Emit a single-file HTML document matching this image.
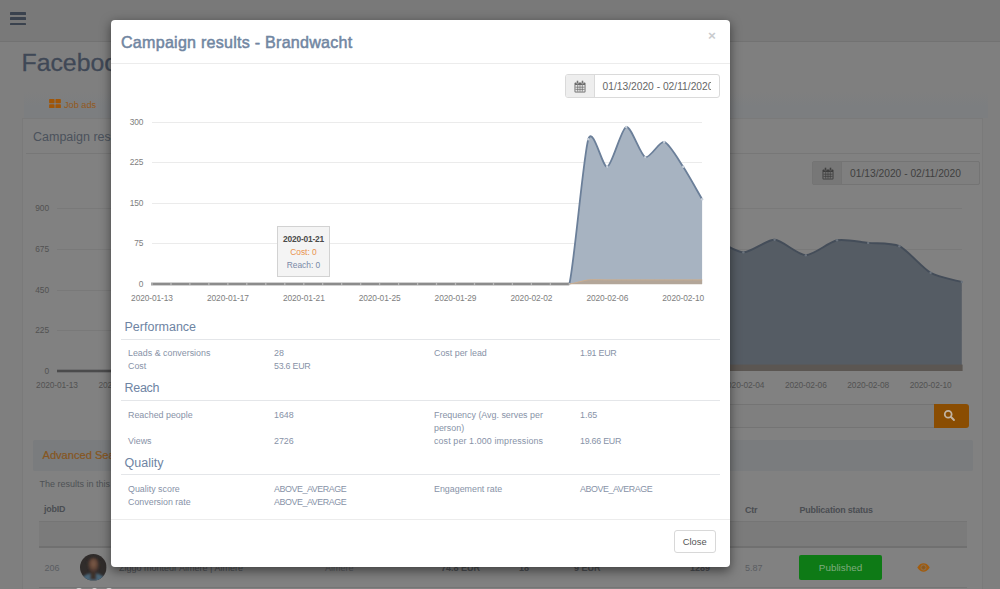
<!DOCTYPE html>
<html>
<head>
<meta charset="utf-8">
<title>Campaign results</title>
<style>
*{box-sizing:border-box;margin:0;padding:0}
html,body{width:1000px;height:589px;overflow:hidden;background:#7f7f7f;font-family:"Liberation Sans",sans-serif;}
.abs{position:absolute}
.t{position:absolute;white-space:nowrap;line-height:1;}
#page{position:absolute;left:0;top:0;width:1000px;height:589px;background:#7f7f7f;overflow:hidden}
#modal{position:absolute;left:111px;top:20px;width:619px;height:547px;background:#fff;border-radius:4px;box-shadow:0 3.5px 10.5px rgba(0,0,0,.5);overflow:hidden}
.lbl{color:#8792a7;font-size:8.9px}
.num{letter-spacing:-.25px}
.cap{letter-spacing:-.42px}
.sec{color:#6e84a3;font-size:12.5px}
.hr{position:absolute;left:10px;width:598.5px;height:1px;background:#e4e6e9}
.ax{color:#7e7e7e;font-size:8.4px;letter-spacing:-.1px}
.bax{color:#525252;font-size:8.4px;letter-spacing:-.1px}
</style>
</head>
<body>
<div id="page">
<div class="abs" style="left:0;top:0;width:1000px;height:42px;background:#797979;border-bottom:1px solid #727272"></div>
<div class="abs" style="left:9.6px;top:12px;width:16.6px;height:2.5px;background:#3a424e;border-radius:.6px"></div>
<div class="abs" style="left:9.6px;top:17.4px;width:16.6px;height:2.5px;background:#3a424e;border-radius:.6px"></div>
<div class="abs" style="left:9.6px;top:22.8px;width:16.6px;height:2.5px;background:#3a424e;border-radius:.6px"></div>
<div class="t" id="ptitle" style="left:21.5px;top:51px;font-size:24.8px;color:#3f4856;-webkit-text-stroke:.3px #3f4856">Facebook campaigns</div>
<div class="abs" style="left:24px;top:92px;width:964px;height:26px;background:linear-gradient(#7f7f7f,#7c7e80 55%,#7c7e80)"></div>
<svg class="abs" style="left:49.4px;top:98.6px" width="12" height="9.6" viewBox="0 0 13 10.6"><g fill="#a05608"><rect x="0" y="0" width="6" height="4.8" rx=".8"/><rect x="7" y="0" width="6" height="4.8" rx=".8"/><rect x="0" y="5.8" width="6" height="4.8" rx=".8"/><rect x="7" y="5.8" width="6" height="4.8" rx=".8"/></g></svg>
<div class="t" id="jobads" style="left:64px;top:101px;font-size:9.2px;color:#94591c">Job ads</div>
<div class="abs" style="left:22px;top:118px;width:960.5px;height:480px;background:#818181;border:1px solid #7a7a7a"></div>
<div class="t" id="pcamp" style="left:33px;top:130.6px;font-size:12.5px;color:#4b525c">Campaign results</div>
<div class="abs" style="left:26px;top:153px;width:954px;height:1px;background:#777"></div>
<div class="abs" style="left:812.4px;top:161px;width:167.3px;height:24px;border:1px solid #747474;border-radius:2px;background:#7f7f7f"></div>
<div class="abs" style="left:813.4px;top:162px;width:28.4px;height:22px;background:#777777;border-right:1px solid #747474"></div>
<svg class="abs" style="left:821.5px;top:167px" width="12" height="13" viewBox="0 0 12 13"><rect x="0.5" y="2.5" width="11" height="10" rx="1" fill="#3e3e3e"/><rect x="1.4" y="5" width="9.2" height="6.6" fill="#757575"/><g stroke="#3e3e3e" stroke-width=".7"><line x1="3.7" y1="5" x2="3.7" y2="11.6"/><line x1="6" y1="5" x2="6" y2="11.6"/><line x1="8.3" y1="5" x2="8.3" y2="11.6"/><line x1="1.4" y1="7.2" x2="10.6" y2="7.2"/><line x1="1.4" y1="9.4" x2="10.6" y2="9.4"/></g><rect x="2.6" y="0.6" width="1.8" height="3.2" rx=".8" fill="#3e3e3e" stroke="#757575" stroke-width=".5"/><rect x="7.6" y="0.6" width="1.8" height="3.2" rx=".8" fill="#3e3e3e" stroke="#757575" stroke-width=".5"/></svg>
<div class="t" style="left:850px;top:169.3px;font-size:10.25px;color:#404040">01/13/2020 - 02/11/2020</div>
<svg class="abs" style="left:0;top:190px" width="1000" height="200" viewBox="0 190 1000 200">
<line x1="57" x2="962" y1="208.5" y2="208.5" stroke="#797979" stroke-width="1"/>
<line x1="57" x2="962" y1="249.5" y2="249.5" stroke="#797979" stroke-width="1"/>
<line x1="57" x2="962" y1="290.5" y2="290.5" stroke="#797979" stroke-width="1"/>
<line x1="57" x2="962" y1="330.5" y2="330.5" stroke="#797979" stroke-width="1"/>
<path d="M57.00 371.00 C64.80 371.00 80.40 371.00 88.20 371.00 C96.00 371.00 111.60 371.00 119.40 371.00 C127.20 371.00 142.80 371.00 150.60 371.00 C158.40 371.00 174.00 371.00 181.80 371.00 C189.60 371.00 205.20 371.00 213.00 371.00 C220.80 371.00 236.40 371.00 244.20 371.00 C252.00 371.00 267.60 371.00 275.40 371.00 C283.20 371.00 298.80 371.00 306.60 371.00 C314.40 371.00 330.00 371.00 337.80 371.00 C345.60 371.00 361.20 371.00 369.00 371.00 C376.80 371.00 392.40 371.00 400.20 371.00 C408.00 371.00 423.60 371.00 431.40 371.00 C439.20 371.00 454.80 371.00 462.60 371.00 C470.40 371.00 486.00 371.00 493.80 371.00 C501.60 371.00 517.20 371.00 525.00 371.00 C532.80 371.00 548.40 371.00 556.20 371.00 C564.00 371.00 579.60 371.00 587.40 371.00 C595.20 371.00 610.80 371.00 618.60 371.00 C626.40 362.12 642.00 315.12 649.80 300.00 C657.60 284.88 673.20 257.50 681.00 250.00 C688.80 242.50 704.40 239.70 712.20 240.00 C720.00 240.30 735.60 252.43 743.40 252.40 C751.20 252.38 766.80 239.45 774.60 239.80 C782.40 240.15 798.00 255.14 805.80 255.20 C813.60 255.26 829.20 241.84 837.00 240.30 C844.80 238.76 860.40 242.16 868.20 242.90 C876.00 243.64 891.60 242.46 899.40 246.20 C907.20 249.94 922.80 268.32 930.60 272.80 C938.40 277.27 954.00 279.70 961.80 282.00 L961.8 371 L57.0 371 Z" fill="#555c64"/>
<path d="M57.00 371.00 C64.80 371.00 80.40 371.00 88.20 371.00 C96.00 371.00 111.60 371.00 119.40 371.00 C127.20 371.00 142.80 371.00 150.60 371.00 C158.40 371.00 174.00 371.00 181.80 371.00 C189.60 371.00 205.20 371.00 213.00 371.00 C220.80 371.00 236.40 371.00 244.20 371.00 C252.00 371.00 267.60 371.00 275.40 371.00 C283.20 371.00 298.80 371.00 306.60 371.00 C314.40 371.00 330.00 371.00 337.80 371.00 C345.60 371.00 361.20 371.00 369.00 371.00 C376.80 371.00 392.40 371.00 400.20 371.00 C408.00 371.00 423.60 371.00 431.40 371.00 C439.20 371.00 454.80 371.00 462.60 371.00 C470.40 371.00 486.00 371.00 493.80 371.00 C501.60 371.00 517.20 371.00 525.00 371.00 C532.80 371.00 548.40 371.00 556.20 371.00 C564.00 371.00 579.60 371.00 587.40 371.00 C595.20 371.00 610.80 371.00 618.60 371.00 C626.40 362.12 642.00 315.12 649.80 300.00 C657.60 284.88 673.20 257.50 681.00 250.00 C688.80 242.50 704.40 239.70 712.20 240.00 C720.00 240.30 735.60 252.43 743.40 252.40 C751.20 252.38 766.80 239.45 774.60 239.80 C782.40 240.15 798.00 255.14 805.80 255.20 C813.60 255.26 829.20 241.84 837.00 240.30 C844.80 238.76 860.40 242.16 868.20 242.90 C876.00 243.64 891.60 242.46 899.40 246.20 C907.20 249.94 922.80 268.32 930.60 272.80 C938.40 277.27 954.00 279.70 961.80 282.00" fill="none" stroke="#444d59" stroke-width="1.9"/>
<rect x="57" y="369.7" width="561.6" height="2.6" fill="#4b4b4c"/>
<rect x="649.8" y="364.6" width="312.8" height="6.4" fill="#5b5652"/>
<circle cx="649.8" cy="300.0" r="1.2" fill="#6b737d"/>
<circle cx="681.0" cy="250.0" r="1.2" fill="#6b737d"/>
<circle cx="712.2" cy="240.0" r="1.2" fill="#6b737d"/>
<circle cx="743.4" cy="252.4" r="1.2" fill="#6b737d"/>
<circle cx="774.6" cy="239.8" r="1.2" fill="#6b737d"/>
<circle cx="805.8" cy="255.2" r="1.2" fill="#6b737d"/>
<circle cx="837.0" cy="240.3" r="1.2" fill="#6b737d"/>
<circle cx="868.2" cy="242.9" r="1.2" fill="#6b737d"/>
<circle cx="899.4" cy="246.2" r="1.2" fill="#6b737d"/>
<circle cx="930.6" cy="272.8" r="1.2" fill="#6b737d"/>
<circle cx="961.8" cy="282.0" r="1.2" fill="#6b737d"/>
</svg>
<div class="t bax" style="right:951px;top:203.7px">900</div>
<div class="t bax" style="right:951px;top:244.7px">675</div>
<div class="t bax" style="right:951px;top:285.7px">450</div>
<div class="t bax" style="right:951px;top:325.7px">225</div>
<div class="t bax" style="right:951px;top:366.7px">0</div>
<div class="t bax" style="left:27.0px;top:380.7px;width:60px;text-align:center">2020-01-13</div>
<div class="t bax" style="left:89.4px;top:380.7px;width:60px;text-align:center">2020-01-15</div>
<div class="t bax" style="left:151.8px;top:380.7px;width:60px;text-align:center">2020-01-17</div>
<div class="t bax" style="left:214.2px;top:380.7px;width:60px;text-align:center">2020-01-19</div>
<div class="t bax" style="left:276.6px;top:380.7px;width:60px;text-align:center">2020-01-21</div>
<div class="t bax" style="left:339.0px;top:380.7px;width:60px;text-align:center">2020-01-23</div>
<div class="t bax" style="left:401.4px;top:380.7px;width:60px;text-align:center">2020-01-25</div>
<div class="t bax" style="left:463.8px;top:380.7px;width:60px;text-align:center">2020-01-27</div>
<div class="t bax" style="left:526.2px;top:380.7px;width:60px;text-align:center">2020-01-29</div>
<div class="t bax" style="left:588.6px;top:380.7px;width:60px;text-align:center">2020-01-31</div>
<div class="t bax" style="left:651.0px;top:380.7px;width:60px;text-align:center">2020-02-02</div>
<div class="t bax" style="left:713.4px;top:380.7px;width:60px;text-align:center">2020-02-04</div>
<div class="t bax" style="left:775.8px;top:380.7px;width:60px;text-align:center">2020-02-06</div>
<div class="t bax" style="left:838.2px;top:380.7px;width:60px;text-align:center">2020-02-08</div>
<div class="t bax" style="left:900.6px;top:380.7px;width:60px;text-align:center">2020-02-10</div>
<div class="abs" style="left:400px;top:404px;width:535px;height:24px;background:#7f7f7f;border:1px solid #747474;border-radius:2px 0 0 2px"></div>
<div class="abs" style="left:934px;top:404px;width:35px;height:23.5px;background:#8a4d02;border-radius:0 3px 3px 0"></div>
<svg class="abs" style="left:943.3px;top:408.7px" width="13" height="13" viewBox="0 0 14 14"><circle cx="5.6" cy="5.6" r="3.7" fill="none" stroke="#c2b4a3" stroke-width="1.9"/><line x1="8.4" y1="8.4" x2="11.8" y2="11.8" stroke="#c2b4a3" stroke-width="2.1" stroke-linecap="round"/></svg>
<div class="abs" style="left:33px;top:440px;width:939.5px;height:31px;background:#7a7c7e;border:1px solid #7a7c7e;border-radius:2px"></div>
<div class="t" id="adv" style="left:42.5px;top:449.5px;font-size:11.1px;color:#875620;-webkit-text-stroke:.2px #875620">Advanced Search</div>
<div class="t" id="res" style="left:39.5px;top:479.5px;font-size:9px;color:#4e5155">The results in this table are updated</div>
<div class="t" id="jobid" style="left:44px;top:505.4px;font-size:8.9px;font-weight:bold;color:#4a4d52;letter-spacing:-.17px">jobID</div>
<div class="t" id="ctr" style="left:745px;top:505.6px;font-size:8.9px;font-weight:bold;color:#4a4d52;letter-spacing:-.17px">Ctr</div>
<div class="t" id="pubs" style="left:799.5px;top:505.6px;font-size:8.9px;font-weight:bold;color:#4a4d52;letter-spacing:-.17px">Publication status</div>
<div class="abs" style="left:39px;top:521px;width:928px;height:27px;background:#7b7b7b;border-top:1px solid #757575;border-bottom:2px solid #707070"></div>
<div class="abs" style="left:39px;top:586.6px;width:928px;height:1px;background:#757575"></div>
<div class="t" style="left:44.5px;top:564px;font-size:9px;color:#5a5d61">206</div>
<svg class="abs" id="avatar" style="left:80.2px;top:554.2px" width="26.6" height="26.6" viewBox="0 0 28 28"><defs><clipPath id="avc"><circle cx="14" cy="14" r="14"/></clipPath><filter id="avb" x="-20%" y="-20%" width="140%" height="140%"><feGaussianBlur stdDeviation="1.1"/></filter><radialGradient id="avf" cx="50%" cy="42%" r="55%"><stop offset="0" stop-color="#7d5c4b"/><stop offset=".55" stop-color="#654839"/><stop offset="1" stop-color="#40302a"/></radialGradient></defs><g clip-path="url(#avc)"><rect width="28" height="28" fill="#302c2b"/><g filter="url(#avb)"><path d="M0 30 C2 22 8 20.5 14 20.5 C20 20.5 26 22 28 30 Z" fill="#4a6578"/><rect x="11" y="17" width="6" height="10" fill="#3c302b"/><ellipse cx="14.2" cy="11.6" rx="5.6" ry="8" fill="url(#avf)"/><path d="M7 11 C6.5 1.5 21.5 1.5 21 11 C19.5 5.6 17 4.6 14 4.6 C11 4.6 8.5 5.6 7 11 Z" fill="#2c2726"/></g></g></svg>
<div class="abs" style="left:76px;top:587.8px;width:5.5px;height:4px;border-radius:50%;background:#d2d2d2"></div><div class="abs" style="left:92px;top:587.8px;width:5px;height:4px;border-radius:50%;background:#d2d2d2"></div><div class="abs" style="left:106px;top:587.8px;width:5.5px;height:4px;border-radius:50%;background:#d2d2d2"></div>
<div class="t" style="left:119px;top:564px;font-size:9px;color:#4d5054">Ziggo monteur Almere | Almere</div>
<div class="t" style="left:325px;top:564px;font-size:9px;color:#5a5d61">Almere</div>
<div class="t" style="left:441px;top:564px;font-size:9px;font-weight:bold;color:#4d5054">74.8 EUR</div>
<div class="t" style="left:519px;top:564px;font-size:9px;font-weight:bold;color:#4d5054">18</div>
<div class="t" style="left:574px;top:564px;font-size:9px;font-weight:bold;color:#4d5054">9 EUR</div>
<div class="t" style="left:690px;top:564px;font-size:9px;font-weight:bold;color:#4d5054">1289</div>
<div class="t" style="left:745px;top:564px;font-size:9px;color:#5a5d61">5.87</div>
<div class="abs" style="left:799.4px;top:555.3px;width:82.8px;height:24.4px;background:#0e7a16;border-radius:2px"></div>
<div class="t" id="publ" style="left:799px;top:563px;width:83px;text-align:center;font-size:9.9px;color:#7fac7f">Published</div>
<svg class="abs" style="left:916.6px;top:562.7px" width="13" height="9" viewBox="0 0 13 9"><path d="M0.3 4.5 C2.3 1.2 4.4 0.3 6.5 0.3 C8.6 0.3 10.7 1.2 12.7 4.5 C10.7 7.8 8.6 8.7 6.5 8.7 C4.4 8.7 2.3 7.8 0.3 4.5 Z" fill="#a35c0c"/><circle cx="6.5" cy="4.5" r="2.6" fill="none" stroke="#7f7466" stroke-width=".9"/><circle cx="6.5" cy="4.5" r="1.2" fill="#7a5a30"/></svg>
</div>
<div id="modal">
<div class="t" id="mtitle" style="left:10px;top:14.0px;font-size:16.1px;letter-spacing:.24px;-webkit-text-stroke:.5px #7186a2;color:#7186a2">Campaign results - Brandwacht</div>
<div class="t" id="mx" style="left:597px;top:9px;font-size:13.5px;font-weight:bold;color:#c9cbce">&times;</div>
<div class="abs" style="left:0;top:43px;width:619px;height:1px;background:#ececec"></div>
<div class="abs" style="left:454px;top:54px;width:155px;height:24px;border:1px solid #dadada;border-radius:3px;background:#fff"></div>
<div class="abs" style="left:455px;top:55px;width:29px;height:22px;background:#eeeeee;border-right:1px solid #dadada;border-radius:2px 0 0 2px"></div>
<svg class="abs" style="left:463px;top:60.400000000000006px" width="12" height="13" viewBox="0 0 12 13"><rect x="0.5" y="2.5" width="11" height="10" rx="1" fill="#6a6a6a"/><rect x="1.4" y="5" width="9.2" height="6.6" fill="#e8e8e8"/><g stroke="#6a6a6a" stroke-width=".7"><line x1="3.7" y1="5" x2="3.7" y2="11.6"/><line x1="6" y1="5" x2="6" y2="11.6"/><line x1="8.3" y1="5" x2="8.3" y2="11.6"/><line x1="1.4" y1="7.2" x2="10.6" y2="7.2"/><line x1="1.4" y1="9.4" x2="10.6" y2="9.4"/></g><rect x="2.6" y="0.6" width="1.8" height="3.2" rx=".8" fill="#6a6a6a" stroke="#e8e8e8" stroke-width=".5"/><rect x="7.6" y="0.6" width="1.8" height="3.2" rx=".8" fill="#6a6a6a" stroke="#e8e8e8" stroke-width=".5"/></svg>
<div class="abs" style="left:491px;top:55px;width:109px;height:22px;overflow:hidden"><div class="t" id="mdate" style="left:.5px;top:7.3px;font-size:10.25px;color:#666">01/13/2020 - 02/11/2020</div></div>
<svg class="abs" style="left:0;top:0" width="618" height="300" viewBox="0 0 618 300">
<line x1="41" x2="591" y1="102.5" y2="102.5" stroke="#ebebeb" stroke-width="1"/>
<line x1="41" x2="591" y1="142.5" y2="142.5" stroke="#ebebeb" stroke-width="1"/>
<line x1="41" x2="591" y1="183.5" y2="183.5" stroke="#ebebeb" stroke-width="1"/>
<line x1="41" x2="591" y1="223.5" y2="223.5" stroke="#ebebeb" stroke-width="1"/>
<path d="M439.37 264.00 C444.11 264.00 453.60 264.00 458.34 264.00 C463.08 245.91 472.57 133.93 477.31 119.28 C482.05 104.63 491.54 148.37 496.28 146.82 C501.02 145.27 510.51 108.07 515.25 106.86 C519.99 105.64 529.48 135.21 534.22 137.10 C538.96 138.99 548.45 120.76 553.19 121.98 C557.93 123.19 567.42 139.66 572.16 146.82 C576.90 153.97 586.39 171.12 591.13 179.22 L591.1 264.0 L439.4 264.0 Z" fill="#a7b3c1"/>
<path d="M439.37 264.00 C444.11 264.00 453.60 264.00 458.34 264.00 C463.08 245.91 472.57 133.93 477.31 119.28 C482.05 104.63 491.54 148.37 496.28 146.82 C501.02 145.27 510.51 108.07 515.25 106.86 C519.99 105.64 529.48 135.21 534.22 137.10 C538.96 138.99 548.45 120.76 553.19 121.98 C557.93 123.19 567.42 139.66 572.16 146.82 C576.90 153.97 586.39 171.12 591.13 179.22" fill="none" stroke="#6b7f99" stroke-width="1.8" stroke-linejoin="round"/>
<path d="M439.37 264.00 C444.11 264.00 453.60 264.00 458.34 264.00 C463.08 263.48 472.57 260.36 477.31 259.84 C482.05 259.32 491.54 259.84 496.28 259.84 C501.02 259.84 510.51 259.84 515.25 259.84 C519.99 259.84 529.48 259.84 534.22 259.84 C538.96 259.84 548.45 259.84 553.19 259.84 C557.93 259.84 567.42 259.84 572.16 259.84 C576.90 259.84 586.39 259.84 591.13 259.84 L591.1 264.2 L439.4 264.2 Z" fill="#b3a699"/>
<path d="M439.37 264.00 C444.11 264.00 453.60 264.00 458.34 264.00 C463.08 263.48 472.57 260.36 477.31 259.84 C482.05 259.32 491.54 259.84 496.28 259.84 C501.02 259.84 510.51 259.84 515.25 259.84 C519.99 259.84 529.48 259.84 534.22 259.84 C538.96 259.84 548.45 259.84 553.19 259.84 C557.93 259.84 567.42 259.84 572.16 259.84 C576.90 259.84 586.39 259.84 591.13 259.84" fill="none" stroke="#cfae8e" stroke-width=".8"/>
<rect x="40.0" y="262.6" width="418.3" height="2.8" fill="#8c8c8c"/>
<circle cx="41.0" cy="264.0" r=".75" fill="#d4d4d4"/>
<circle cx="60.0" cy="264.0" r=".75" fill="#d4d4d4"/>
<circle cx="78.9" cy="264.0" r=".75" fill="#d4d4d4"/>
<circle cx="97.9" cy="264.0" r=".75" fill="#d4d4d4"/>
<circle cx="116.9" cy="264.0" r=".75" fill="#d4d4d4"/>
<circle cx="135.8" cy="264.0" r=".75" fill="#d4d4d4"/>
<circle cx="154.8" cy="264.0" r=".75" fill="#d4d4d4"/>
<circle cx="173.8" cy="264.0" r=".75" fill="#d4d4d4"/>
<circle cx="192.8" cy="264.0" r=".75" fill="#d4d4d4"/>
<circle cx="211.7" cy="264.0" r=".75" fill="#d4d4d4"/>
<circle cx="230.7" cy="264.0" r=".75" fill="#d4d4d4"/>
<circle cx="249.7" cy="264.0" r=".75" fill="#d4d4d4"/>
<circle cx="268.6" cy="264.0" r=".75" fill="#d4d4d4"/>
<circle cx="287.6" cy="264.0" r=".75" fill="#d4d4d4"/>
<circle cx="306.6" cy="264.0" r=".75" fill="#d4d4d4"/>
<circle cx="325.5" cy="264.0" r=".75" fill="#d4d4d4"/>
<circle cx="344.5" cy="264.0" r=".75" fill="#d4d4d4"/>
<circle cx="363.5" cy="264.0" r=".75" fill="#d4d4d4"/>
<circle cx="382.5" cy="264.0" r=".75" fill="#d4d4d4"/>
<circle cx="401.4" cy="264.0" r=".75" fill="#d4d4d4"/>
<circle cx="420.4" cy="264.0" r=".75" fill="#d4d4d4"/>
<circle cx="439.4" cy="264.0" r=".75" fill="#d4d4d4"/>
<circle cx="458.3" cy="264.0" r=".75" fill="#d4d4d4"/>
<circle cx="477.3" cy="119.3" r="1.2" fill="#c9d1db"/>
<circle cx="496.3" cy="146.8" r="1.2" fill="#c9d1db"/>
<circle cx="515.2" cy="106.9" r="1.2" fill="#c9d1db"/>
<circle cx="534.2" cy="137.1" r="1.2" fill="#c9d1db"/>
<circle cx="553.2" cy="122.0" r="1.2" fill="#c9d1db"/>
<circle cx="572.2" cy="146.8" r="1.2" fill="#c9d1db"/>
<circle cx="591.1" cy="179.2" r="1.2" fill="#c9d1db"/>
</svg>
<div class="t ax" style="right:586.6px;top:98.0px">300</div>
<div class="t ax" style="right:586.6px;top:138.0px">225</div>
<div class="t ax" style="right:586.6px;top:179.0px">150</div>
<div class="t ax" style="right:586.6px;top:219.0px">75</div>
<div class="t ax" style="right:586.6px;top:260.0px">0</div>
<div class="t ax" style="left:11.0px;top:274.2px;width:60px;text-align:center">2020-01-13</div>
<div class="t ax" style="left:86.9px;top:274.2px;width:60px;text-align:center">2020-01-17</div>
<div class="t ax" style="left:162.8px;top:274.2px;width:60px;text-align:center">2020-01-21</div>
<div class="t ax" style="left:238.6px;top:274.2px;width:60px;text-align:center">2020-01-25</div>
<div class="t ax" style="left:314.5px;top:274.2px;width:60px;text-align:center">2020-01-29</div>
<div class="t ax" style="left:390.4px;top:274.2px;width:60px;text-align:center">2020-02-02</div>
<div class="t ax" style="left:466.3px;top:274.2px;width:60px;text-align:center">2020-02-06</div>
<div class="t ax" style="left:542.2px;top:274.2px;width:60px;text-align:center">2020-02-10</div>
<div class="abs" style="left:166.4px;top:206px;width:53px;height:51.3px;background:#f4f4f4;border:1.2px solid #d2d2d2"></div>
<div class="t" id="tt1" style="left:166px;top:214.7px;width:53px;text-align:center;font-size:8.4px;letter-spacing:-.2px;font-weight:bold;color:#4a4a4a">2020-01-21</div>
<div class="t" id="tt2" style="left:166px;top:228.2px;width:53px;text-align:center;font-size:8.4px;color:#e9924e">Cost: 0</div>
<div class="t" id="tt3" style="left:166px;top:240.7px;width:53px;text-align:center;font-size:8.4px;color:#7888a6">Reach: 0</div>
<div class="t sec" id="s1" style="left:13.5px;top:300.8px">Performance</div>
<div class="hr" style="top:319.0px"></div>
<div class="t lbl" id="l1" style="left:17px;top:329.2px">Leads &amp; conversions</div>
<div class="t lbl" style="left:163px;top:329.2px">28</div>
<div class="t lbl" id="l2" style="left:323px;top:329.2px">Cost per lead</div>
<div class="t lbl num" id="l3" style="left:469px;top:329.2px">1.91 EUR</div>
<div class="t lbl" style="left:17px;top:342.2px">Cost</div>
<div class="t lbl num" id="l4" style="left:163px;top:342.2px">53.6 EUR</div>
<div class="t sec" id="s2" style="left:13.5px;top:362.3px"><span style="letter-spacing:-.3px">Reach</span></div>
<div class="hr" style="top:379.5px"></div>
<div class="t lbl" id="l5" style="left:17px;top:390.5px">Reached people</div>
<div class="t lbl" style="left:163px;top:390.5px">1648</div>
<div class="t lbl" id="l6" style="left:323px;top:390.5px">Frequency (Avg. serves per</div>
<div class="t lbl" style="left:469px;top:390.5px">1.65</div>
<div class="t lbl" style="left:323px;top:403.5px">person)</div>
<div class="t lbl" style="left:17px;top:417.0px">Views</div>
<div class="t lbl" style="left:163px;top:417.0px">2726</div>
<div class="t lbl" id="l7" style="left:323px;top:417.0px"><span style="letter-spacing:.12px">cost per 1.000 impressions</span></div>
<div class="t lbl num" style="left:469px;top:417.0px">19.66 EUR</div>
<div class="t sec" id="s3" style="left:13.5px;top:437.2px">Quality</div>
<div class="hr" style="top:454.0px"></div>
<div class="t lbl" style="left:17px;top:464.7px">Quality score</div>
<div class="t lbl cap" id="l8" style="left:163px;top:464.7px">ABOVE_AVERAGE</div>
<div class="t lbl" id="l9" style="left:323px;top:464.7px">Engagement rate</div>
<div class="t lbl cap" style="left:469px;top:464.7px">ABOVE_AVERAGE</div>
<div class="t lbl" id="l10" style="left:17px;top:477.7px">Conversion rate</div>
<div class="t lbl cap" style="left:163px;top:477.7px">ABOVE_AVERAGE</div>
<div class="abs" style="left:0;top:499px;width:619px;height:1px;background:#ececec"></div>
<div class="abs" style="left:562.5px;top:509.7px;width:42.5px;height:23.5px;border:1px solid #d8d8d8;border-radius:3px;background:#fff"></div>
<div class="t" id="mclose" style="left:562.5px;top:517.0px;width:42.5px;text-align:center;font-size:9.4px;color:#555">Close</div>
</div>
</body>
</html>
